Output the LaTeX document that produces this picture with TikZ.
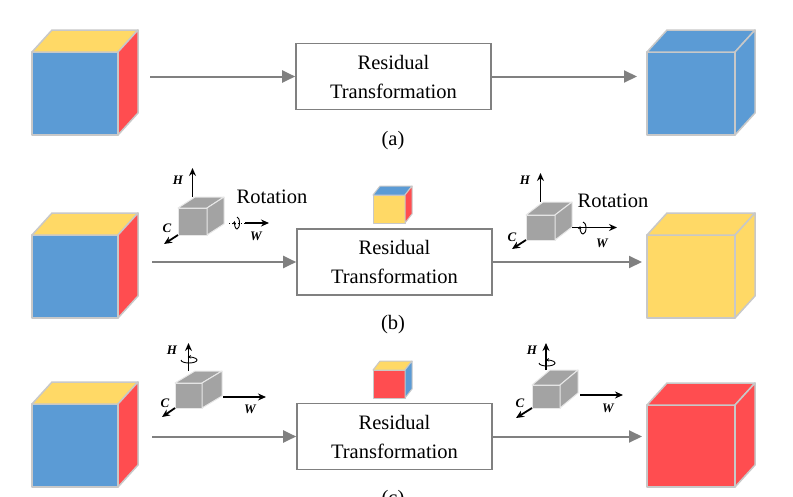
\documentclass[tikz,border=0pt]{standalone}
\usepackage{fontspec}
\setmainfont{Liberation Serif}
\usetikzlibrary{arrows.meta}

\definecolor{cubeblue}{RGB}{91,155,213}
\definecolor{cubeyellow}{RGB}{255,217,102}
\definecolor{cubered}{RGB}{255,77,80}
\definecolor{cubeedge}{RGB}{200,200,200}
\definecolor{flowgray}{RGB}{128,128,128}
\definecolor{minigray}{RGB}{163,163,163}
\definecolor{miniedge}{RGB}{232,232,232}

\tikzset{
  face/.style={draw=cubeedge, line width=1.5pt, line join=round, inner sep=0pt, outer sep=0pt},
  miniface/.style={draw=miniedge, fill=minigray, line width=1pt, line join=round, inner sep=0pt, outer sep=0pt},
  flow/.style={draw=flowgray, line width=2pt, -{Triangle[length=13pt,width=12pt]}},
  resbox/.style={draw=flowgray, line width=1.6pt, minimum width=195pt, minimum height=66pt,
    align=center, font=\fontsize{20.5}{29}\selectfont},
  axis/.style={line width=1.8pt, -{Stealth[length=8pt,width=7pt]}},
  rot/.style={line width=0.9pt, -{Stealth[length=3.5pt,width=3.5pt]}},
  axlabel/.style={font=\fontsize{13}{13}\selectfont\itshape\bfseries, inner sep=0pt},
  caption/.style={font=\fontsize{20.5}{24}\selectfont, inner sep=0pt},
}

% top and right faces behind a front face node
\newcommand\cubesides[6]{% node, depth x, depth y, top, side, style
  \filldraw[#6, fill=#4] (#1.north west) -- ([shift={(#2,-#3)}]#1.north west)
    -- ([shift={(#2,-#3)}]#1.north east) -- (#1.north east) -- cycle;
  \filldraw[#6, fill=#5] (#1.north east) -- ([shift={(#2,-#3)}]#1.north east)
    -- ([shift={(#2,-#3)}]#1.south east) -- (#1.south east) -- cycle;
}

\begin{document}
\begin{tikzpicture}[x=1pt,y=-1pt]
  \useasboundingbox (0,0) rectangle (793,496);

  % (a)
  \node[face, fill=cubeblue, minimum width=86pt, minimum height=83pt] (cubea) at (75,93.5) {};
  \cubesides{cubea}{20}{22}{cubeyellow}{cubered}{face}
  \node[face, fill=cubeblue, minimum width=88pt, minimum height=83pt] (outcubea) at (691,93.5) {};
  \cubesides{outcubea}{20}{22}{cubeblue}{cubeblue}{face}
  \node[resbox] (resa) at (393.5,76.5) {Residual\\Transformation};
  \coordinate (ina) at (150,76.5);
  \coordinate (outa) at (637,76.5);
  \draw[flow] (ina) -- (resa.west);
  \draw[flow] (resa.east) -- (outa);
  \node[caption] (capa) at (393,141) {(a)};

  % (b)
  \node[face, fill=cubeblue, minimum width=86pt, minimum height=83pt] (cubeb) at (75,276.5) {};
  \cubesides{cubeb}{20}{22}{cubeyellow}{cubered}{face}
  \node[face, fill=cubeyellow, minimum width=88pt, minimum height=83pt] (outcubeb) at (691,276.5) {};
  \cubesides{outcubeb}{20}{22}{cubeyellow}{cubeyellow}{face}
  \node[resbox] (resb) at (394.5,262) {Residual\\Transformation};
  \coordinate (inb) at (152,262);
  \coordinate (outb) at (642,262);
  \draw[flow] (inb) -- (resb.west);
  \draw[flow] (resb.east) -- (outb);
  \node[face, fill=cubeyellow, minimum width=32pt, minimum height=28pt, line width=1pt] (smallb) at (389,209) {};
  \cubesides{smallb}{7}{9}{cubeblue}{cubered}{face, line width=1pt}
  \node[caption] (capb) at (393,325) {(b)};

  \node[miniface, minimum width=29pt, minimum height=27pt] (minibl) at (192.5,221.5) {};
  \cubesides{minibl}{17}{11}{minigray}{minigray}{miniface}
  \draw[axis] ([yshift=11pt]minibl.north) -- ++(0,-29);
  \draw[axis] (minibl.south west) -- ++(-14,9);
  \draw[line width=1pt, dotted] ([shift={(22,1.5)}]minibl.east) -- ++(16,0);
  \draw[axis] ([shift={(38,1.5)}]minibl.east) -- ++(24,0);
  \draw[rot] (237,217) arc[start angle=-90, end angle=200, x radius=2.5, y radius=6];
  \node[axlabel] (hbl) at (178,180) {H};
  \node[axlabel] (cbl) at (167,228) {C};
  \node[axlabel] (wbl) at (256,236) {W};
  \node[caption] (rotbl) at (272,197) {Rotation};

  \node[miniface, minimum width=29pt, minimum height=25pt] (minibr) at (540.5,227.5) {};
  \cubesides{minibr}{17}{13}{minigray}{minigray}{miniface}
  \draw[axis] ([yshift=13pt]minibr.north) -- ++(0,-29);
  \draw[axis] (minibr.south west) -- ++(-14,9);
  \draw[axis] ([xshift=17pt]minibr.east) -- ++(45,0);
  \draw[rot] (583,222) arc[start angle=-90, end angle=200, x radius=3, y radius=6];
  \node[axlabel] (hbr) at (525,180) {H};
  \node[axlabel] (cbr) at (512,237) {C};
  \node[axlabel] (wbr) at (602,243) {W};
  \node[caption] (rotbr) at (613,201) {Rotation};

  % (c)
  \node[face, fill=cubeblue, minimum width=86pt, minimum height=83pt] (cubec) at (75,445.5) {};
  \cubesides{cubec}{20}{22}{cubeyellow}{cubered}{face}
  \node[face, fill=cubered, minimum width=88pt, minimum height=82pt] (outcubec) at (691,446) {};
  \cubesides{outcubec}{20}{22}{cubered}{cubered}{face}
  \node[resbox] (resc) at (394.5,436.5) {Residual\\Transformation};
  \coordinate (inc) at (152,436.5);
  \coordinate (outc) at (642,436.5);
  \draw[flow] (inc) -- (resc.west);
  \draw[flow] (resc.east) -- (outc);
  \node[face, fill=cubered, minimum width=32pt, minimum height=28pt, line width=1pt] (smallc) at (389,384) {};
  \cubesides{smallc}{7}{9}{cubeyellow}{cubeblue}{face, line width=1pt}
  \node[caption] (capc) at (393,500) {(c)};

  \node[miniface, minimum width=27pt, minimum height=25pt] (minicl) at (188.5,395.5) {};
  \cubesides{minicl}{20}{12}{minigray}{minigray}{miniface}
  \draw[axis] ([yshift=12pt]minicl.north) -- ++(0,-28);
  \draw[rot] (181,360) arc[start angle=180, end angle=-100, x radius=8, y radius=3];
  \draw[axis] (minicl.south west) -- ++(-13,9);
  \draw[axis] ([xshift=21pt,yshift=-1.5pt]minicl.east) -- ++(43,0);
  \node[axlabel] (hcl) at (172,350) {H};
  \node[axlabel] (ccl) at (165,403) {C};
  \node[axlabel] (wcl) at (250,409) {W};

  \node[miniface, minimum width=28pt, minimum height=23pt] (minicr) at (546,396.5) {};
  \cubesides{minicr}{18}{15}{minigray}{minigray}{miniface}
  \draw[axis] ([yshift=15pt]minicr.north) -- ++(0,-27);
  \draw[rot] (539,363) arc[start angle=180, end angle=-100, x radius=8, y radius=3];
  \draw[axis] (minicr.south west) -- ++(-16,10);
  \draw[axis] ([xshift=20pt,yshift=1.5pt]minicr.east) -- ++(43,0);
  \node[axlabel] (hcr) at (532,350) {H};
  \node[axlabel] (ccr) at (520,403) {C};
  \node[axlabel] (wcr) at (608,408) {W};
\end{tikzpicture}
\end{document}
